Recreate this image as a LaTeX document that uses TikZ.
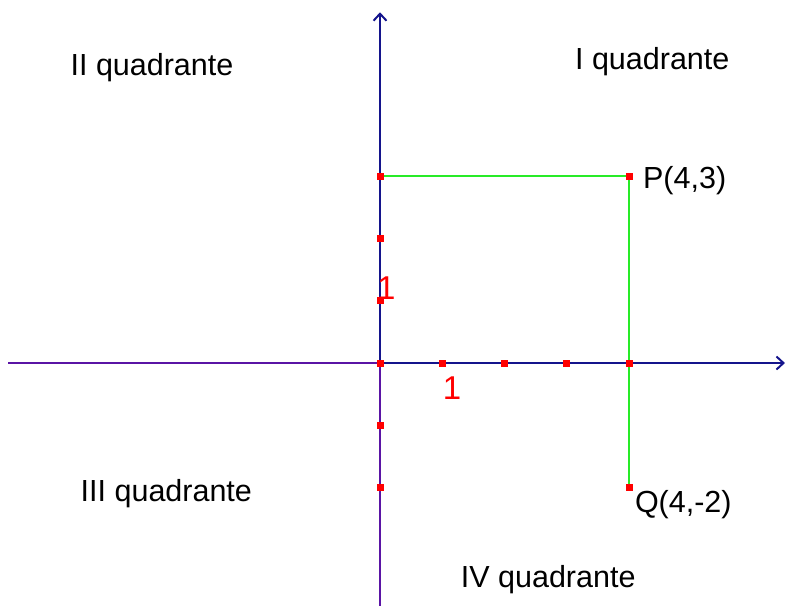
\documentclass[tikz,border=0pt]{standalone}
\usepackage{fontspec}
\setmainfont{Liberation Sans}
\usetikzlibrary{arrows.meta,calc,positioning,backgrounds}
\definecolor{assepos}{RGB}{20,20,140}
\definecolor{asseneg}{RGB}{90,20,165}
\definecolor{verde}{RGB}{40,235,40}

\begin{document}
\begin{tikzpicture}[x=62.3pt, y=62.3pt, font=\fontsize{30.5}{36}\selectfont,
  punto/.style={fill=red, minimum size=7pt, inner sep=0pt},
  etichetta/.style={inner sep=0pt},
  uno/.style={inner sep=0pt, text=red, font=\fontsize{33}{38}\selectfont},
  punta/.style={-{Straight Barb[length=7pt,width=13pt,line width=2pt]}}]
\useasboundingbox (-6.1,-3.9) rectangle (6.517,5.827);
% Punti sugli assi
\node[punto] (O) at (0,0) {};
\foreach \i in {1,...,4}{
  \node[punto] (x\i) at (\i,0) {};
}
\foreach \j/\n in {1/1, 2/2, 3/3, -1/m1, -2/m2}{
  \node[punto] (y\n) at (0,\j) {};
}
\node[punto] (P) at (4,3) {};
\node[punto] (Q) at (4,-2) {};
% Estremi degli assi
\coordinate (xmin) at (-5.97,0);
\coordinate (xmax) at (6.5,0);
\coordinate (ymin) at (0,-3.95);
\coordinate (ymax) at (0,5.63);
% Assi e segmenti
\begin{scope}[on background layer]
  \draw[asseneg, line width=2.3pt] (xmin) -- (O.center);
  \draw[asseneg, line width=2.3pt] (ymin) -- (O.center);
  \draw[assepos, line width=2.3pt, punta] (O.center) -- (xmax);
  \draw[assepos, line width=2.3pt, punta] (O.center) -- (ymax);
  \draw[verde, line width=1.5pt] (y3.center) -- (P.center) -- (Q.center);
\end{scope}
% Etichette
\node[uno] (ux) at (1.155,-0.40) {1};
\node[uno] (uy) at (0.10,1.20) {1};
\node[etichetta, anchor=west] (lP) at ($(P)+(0.22,-0.07)$) {P(4,3)};
\node[etichetta, anchor=west] (lQ) at ($(Q)+(0.09,-0.28)$) {Q(4,-2)};
% Quadranti
\node[etichetta] (q1) at (4.37,4.83) {I quadrante};
\node[etichetta] (q2) at (-3.66,4.74) {II quadrante};
\node[etichetta] (q3) at (-3.43,-2.10) {III quadrante};
\node[etichetta] (q4) at (2.70,-3.48) {IV quadrante};
\end{tikzpicture}
\end{document}
